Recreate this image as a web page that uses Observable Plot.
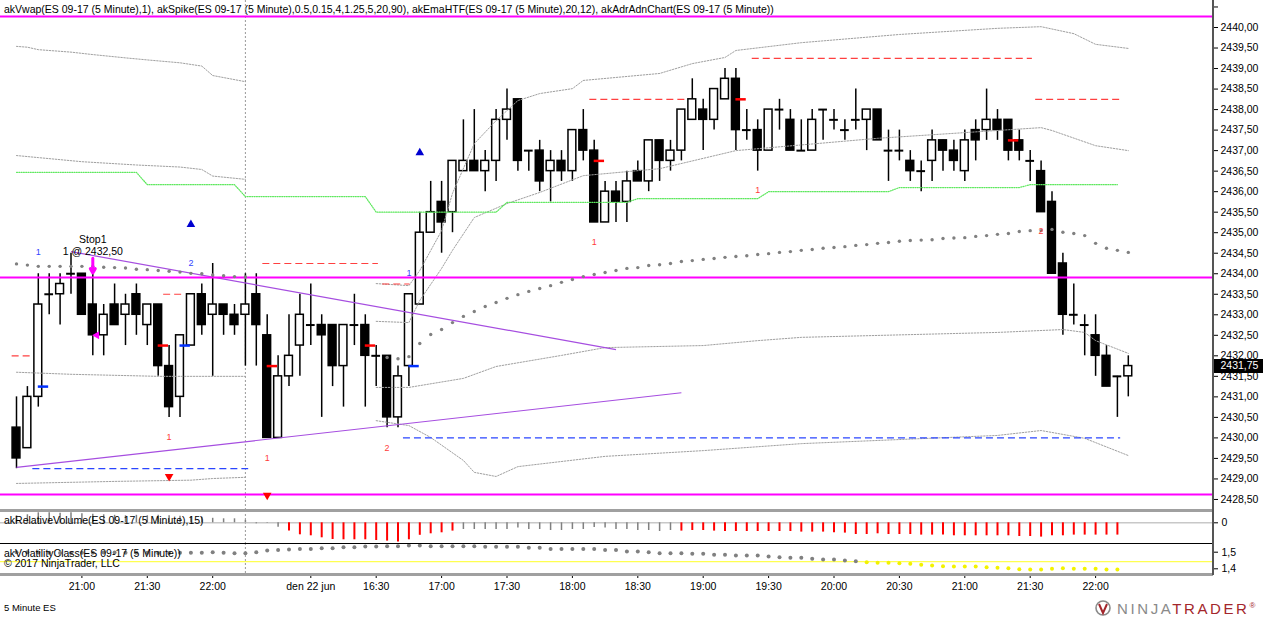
<!DOCTYPE html>
<html>
<head>
<meta charset="utf-8">
<script src="https://cdn.jsdelivr.net/npm/d3@7"></script>
<script src="https://cdn.jsdelivr.net/npm/@observablehq/plot@0.6"></script>
<style>
  body { margin: 0; background: #fff; overflow: hidden; font-family: 'Liberation Sans', Arial, sans-serif; }
  #chart { position: relative; width: 1264px; height: 617px; background: #fff; }
  #chart svg { position: absolute; left: 0; }
  .lbl { position: absolute; left: 4px; font-size: 10.5px; line-height: 12px; color: #000; white-space: nowrap; }
  .sep { position: absolute; left: 0; width: 1213px; }
</style>
</head>
<body>
<div id="chart">
  <div class="lbl" style="top:3px">akVwap(ES 09-17 (5 Minute),1), akSpike(ES 09-17 (5 Minute),0.5,0.15,4,1.25,5,20,90), akEmaHTF(ES 09-17 (5 Minute),20,12), akAdrAdnChart(ES 09-17 (5 Minute))</div>
</div>
<script>
// 5 minute bars, index 1 = 20:30 (first session), 23 = 15:35 next day
const open = [2430.25, 2429.75, 2431.0, 2433.5, 2433.5, 2434.0, 2434.0, 2433.25, 2432.5, 2433.25,
  2433.0, 2433.5, 2432.75, 2433.25, 2431.75, 2431.0, 2432.25, 2433.5, 2433.0, 2433.25,
  2433.0, 2433.0, 2433.5, 2432.5, 2430.0, 2431.5, 2432.25, 2432.75, 2432.75, 2432.75,
  2431.75, 2432.75, 2432.75, 2432.0, 2432.0, 2430.5, 2431.75, 2433.25, 2435.0, 2435.75,
  2435.5, 2436.5, 2436.75, 2436.5, 2436.75, 2437.75, 2438.25, 2437.0, 2437.0, 2436.5,
  2436.75, 2436.5, 2437.5, 2437.0, 2435.25, 2436.0, 2435.75, 2436.5, 2436.25, 2437.25,
  2436.75, 2437.0, 2437.75, 2438.0, 2437.75, 2438.25, 2438.75, 2437.5, 2437.5, 2437.0,
  2438.0, 2437.75, 2437.0, 2437.0, 2438.0, 2437.75, 2437.5, 2437.75, 2437.75, 2438.0,
  2437.0, 2437.0, 2436.75, 2436.5, 2436.75, 2437.25, 2437.0, 2436.5, 2437.5, 2437.5,
  2437.75, 2437.75, 2437.25, 2436.75, 2436.5, 2435.75, 2434.25, 2433.0, 2432.75, 2432.5,
  2432.0, 2431.5, 2431.5]
const high = [2431.0, 2431.25, 2434.0, 2434.0, 2434.0, 2434.5, 2434.0, 2434.0, 2433.25, 2433.75,
  2433.5, 2433.75, 2433.25, 2433.25, 2432.25, 2432.5, 2433.5, 2433.75, 2434.25, 2433.25,
  2433.25, 2434.0, 2434.0, 2433.0, 2432.0, 2433.0, 2433.5, 2433.75, 2433.0, 2432.75,
  2432.75, 2433.5, 2433.0, 2432.25, 2432.0, 2431.75, 2433.5, 2435.5, 2436.25, 2436.25,
  2436.75, 2437.75, 2438.0, 2437.0, 2438.0, 2438.5, 2438.25, 2437.0, 2437.25, 2437.0,
  2437.0, 2437.5, 2438.0, 2437.25, 2436.25, 2436.25, 2436.5, 2436.75, 2437.25, 2437.25,
  2437.25, 2438.0, 2438.75, 2438.25, 2438.5, 2439.0, 2439.0, 2438.0, 2437.75, 2438.0,
  2438.25, 2438.0, 2437.75, 2438.0, 2438.0, 2438.0, 2437.75, 2438.5, 2438.0, 2438.0,
  2437.5, 2437.5, 2437.0, 2436.75, 2437.5, 2437.25, 2437.25, 2437.5, 2437.75, 2438.5,
  2438.0, 2437.75, 2437.5, 2437.0, 2436.75, 2436.0, 2434.5, 2433.75, 2433.0, 2433.0,
  2432.25, 2431.5, 2432.0]
const low = [2429.25, 2429.75, 2430.75, 2433.0, 2432.75, 2433.5, 2433.0, 2432.0, 2432.0, 2432.75,
  2432.25, 2432.5, 2432.25, 2431.5, 2430.5, 2430.5, 2432.25, 2432.5, 2431.5, 2432.5,
  2432.5, 2431.75, 2431.75, 2430.0, 2430.0, 2431.25, 2431.5, 2432.25, 2430.5, 2431.25,
  2430.75, 2432.25, 2430.75, 2431.25, 2430.25, 2430.25, 2431.25, 2433.25, 2435.0, 2434.5,
  2435.0, 2436.5, 2436.5, 2436.0, 2436.25, 2437.25, 2436.5, 2436.5, 2436.0, 2435.75,
  2436.25, 2436.25, 2436.75, 2435.25, 2435.25, 2435.25, 2435.25, 2436.25, 2436.0, 2436.25,
  2436.5, 2436.75, 2437.75, 2437.0, 2437.5, 2438.25, 2437.0, 2437.25, 2436.5, 2437.0,
  2437.5, 2437.0, 2437.0, 2437.0, 2437.25, 2437.5, 2437.25, 2437.5, 2437.0, 2437.25,
  2436.25, 2436.75, 2436.25, 2436.0, 2436.25, 2436.5, 2436.5, 2436.25, 2436.75, 2437.25,
  2437.25, 2436.75, 2436.75, 2436.25, 2435.5, 2434.0, 2432.5, 2432.75, 2432.0, 2431.5,
  2431.25, 2430.5, 2431.0]
const close = [2429.5, 2431.0, 2433.25, 2433.5, 2433.75, 2434.0, 2433.0, 2432.5, 2433.0, 2432.75,
  2433.25, 2433.0, 2433.25, 2431.75, 2430.75, 2432.5, 2433.5, 2432.75, 2433.25, 2433.0,
  2432.75, 2433.25, 2432.75, 2430.0, 2431.5, 2432.0, 2433.0, 2432.75, 2432.5, 2431.75,
  2432.75, 2432.75, 2432.0, 2432.0, 2430.5, 2431.5, 2433.5, 2435.0, 2435.5, 2435.25,
  2436.75, 2436.75, 2436.5, 2436.75, 2437.75, 2438.0, 2436.75, 2437.0, 2436.25, 2436.75,
  2436.5, 2437.5, 2437.0, 2435.25, 2436.0, 2435.75, 2436.25, 2436.25, 2437.25, 2436.75,
  2437.0, 2438.0, 2438.25, 2437.75, 2438.5, 2438.75, 2437.5, 2437.5, 2437.0, 2438.0,
  2438.0, 2437.0, 2437.0, 2437.75, 2438.0, 2437.75, 2437.5, 2437.75, 2438.0, 2437.25,
  2437.0, 2437.0, 2436.5, 2436.5, 2437.25, 2437.0, 2436.75, 2437.25, 2437.25, 2437.75,
  2437.5, 2437.0, 2437.0, 2436.75, 2435.5, 2434.0, 2433.0, 2433.0, 2432.75, 2432.0,
  2431.25, 2431.5, 2431.75]

// time axis
const timeTickBar = [7, 13, 19, 28, 34, 40, 46, 52, 58, 64, 70, 76, 82, 88, 94, 100]
const timeTickLabel = ['21:00', '21:30', '22:00', 'den 22 jun', '16:30', '17:00', '17:30', '18:00',
  '18:30', '19:00', '19:30', '20:00', '20:30', '21:00', '21:30', '22:00']
const sessionBreakBar = 22

// akVwap: vwap dots per session
const vwapS1Start = 1
const vwapS1 = [2434.24, 2434.21, 2434.18, 2434.18, 2434.18, 2434.18, 2434.18, 2434.18, 2434.16, 2434.15,
  2434.14, 2434.11, 2434.10, 2434.08, 2434.06, 2434.04, 2434.01, 2434.00, 2433.97, 2433.95,
  2433.93, 2433.92]
const vwapS2Start = 35
const vwapS2 = [2431.96, 2431.93, 2431.98, 2432.30, 2432.52, 2432.64, 2432.81, 2432.96, 2433.08, 2433.20,
  2433.30, 2433.40, 2433.49, 2433.57, 2433.64, 2433.71, 2433.79, 2433.86, 2433.93, 2433.98,
  2434.03, 2434.08, 2434.13, 2434.15, 2434.20, 2434.22, 2434.25, 2434.30, 2434.32, 2434.35,
  2434.37, 2434.40, 2434.42, 2434.44, 2434.47, 2434.49, 2434.52, 2434.54, 2434.57, 2434.59,
  2434.62, 2434.64, 2434.66, 2434.69, 2434.71, 2434.74, 2434.76, 2434.79, 2434.81, 2434.82,
  2434.83, 2434.86, 2434.87, 2434.88, 2434.91, 2434.93, 2434.96, 2434.98, 2435.03, 2435.05,
  2435.05, 2435.08, 2435.01, 2434.98, 2434.93, 2434.74, 2434.62, 2434.57, 2434.52]

// vwap deviation bands, [bar, price]
const bandS1Up2 = [[1, 2439.54], [2, 2439.52], [3, 2439.46], [6, 2439.40], [8, 2439.34], [11, 2439.26],
  [13, 2439.21], [16, 2439.14], [18, 2439.06], [19, 2438.83], [22, 2438.68]]
const bandS1Up1 = [[1, 2436.88], [3, 2436.83], [7, 2436.73], [12, 2436.65], [16, 2436.60], [18, 2436.54],
  [19, 2436.38], [22, 2436.30]]
const bandS1Dn1 = [[1, 2431.60], [6, 2431.55], [14, 2431.50], [22, 2431.50]]
const bandS1Dn2 = [[1, 2428.89], [10, 2428.94], [17, 2428.97], [19, 2429.01], [22, 2429.04]]
const bandS2Up2 = [[34, 2433.76], [37, 2433.71], [38, 2434.08], [40, 2435.05], [41, 2435.96], [43, 2437.17],
  [45, 2437.73], [47, 2438.22], [49, 2438.39], [52, 2438.51], [53, 2438.71], [60, 2438.88], [63, 2439.12],
  [66, 2439.27], [67, 2439.44], [73, 2439.63], [82, 2439.83], [91, 2439.98], [95, 2440.02], [98, 2439.85],
  [100, 2439.59], [103, 2439.49]]
const bandS2Up1 = [[34, 2432.84], [37, 2432.81], [38, 2433.35], [40, 2434.13], [41, 2434.57], [43, 2435.37],
  [46, 2435.71], [49, 2435.98], [53, 2436.39], [60, 2436.56], [67, 2437.00], [80, 2437.30], [95, 2437.56],
  [96, 2437.49], [100, 2437.12], [103, 2437.00]]
const bandS2Dn1 = [[34, 2431.23], [37, 2431.23], [42, 2431.45], [45, 2431.74], [51, 2432.01], [55, 2432.20],
  [64, 2432.25], [69, 2432.37], [73, 2432.45], [91, 2432.57], [97, 2432.64], [99, 2432.57], [100, 2432.37],
  [103, 2432.06]]
const bandS2Dn2 = [[34, 2430.42], [37, 2430.30], [39, 2430.01], [42, 2429.45], [43, 2429.16], [45, 2429.06],
  [47, 2429.30], [55, 2429.55], [64, 2429.69], [73, 2429.86], [91, 2430.06], [95, 2430.18], [99, 2429.99],
  [103, 2429.57]]

// akEmaHTF step line, [bar, price]
const emaHTF = [[1, 2436.47], [12, 2436.47], [13, 2436.17], [21, 2436.17], [22, 2435.88], [33, 2435.88],
  [34, 2435.50], [45, 2435.50], [46, 2435.74], [57, 2435.74], [58, 2435.83], [69, 2435.83], [70, 2436.00],
  [81, 2436.00], [82, 2436.10], [93, 2436.10], [94, 2436.17], [102, 2436.17]]

// akAdrAdnChart levels
const adrLevels = [2440.27, 2433.91, 2428.62]

// akSpike dashed levels (from bar, to bar, price)
const redLevelFrom = [0.6, 14.5, 23.6, 34.6, 53.6, 68.5, 94.5]
const redLevelTo = [2.3, 16.3, 34.2, 37.1, 62.4, 94.2, 102.3]
const redLevelPrice = [2432.0, 2433.5, 2434.25, 2433.75, 2438.25, 2439.25, 2438.25]
const blueLevelFrom = [2.5, 36.5]
const blueLevelTo = [22.3, 102.3]
const blueLevelPrice = [2429.25, 2430.0]

// spike ticks on bars
const buyTickBar = [3, 16, 37]
const buyTickPrice = [2431.25, 2432.25, 2431.75]
const sellTickBar = [14, 24, 33, 54, 67, 92]
const sellTickPrice = [2432.25, 2431.75, 2432.25, 2436.75, 2438.25, 2437.25]

// triangles and counters
const upTriBar = [17, 38]
const upTriPrice = [2435.20, 2436.95]
const downTriBar = [15, 24]
const downTriPrice = [2429.06, 2428.60]
const blueCountBar = [3, 17, 37]
const blueCountPrice = [2434.52, 2434.25, 2434.01]
const blueCountText = ['1', '2', '1']
const redCountBar = [15, 24, 35, 54, 69, 95]
const redCountPrice = [2430.01, 2429.50, 2429.74, 2434.76, 2436.03, 2435.03]
const redCountText = ['1', '1', '2', '1', '1', '2']

// trend lines drawn on the chart
const trendFrom = [[6, 2434.54], [1, 2429.28]]
const trendTo = [[56, 2432.15], [62, 2431.10]]

// stop order
const stopBar = 8
const stopPrice = 2432.50
const stopQty = 1

// akRelativeVolume(15), bars 1..102
const relVol = [0.7, 0.8, 1.0, 1.0, 0.95, 1.0, 0.9, 0.85, 0.8, 0.75,
  0.7, 0.75, 0.7, 0.75, 0.7, 0.65, 0.6, 0.55, 0.45, 0.4,
  0.4, 0.25, -0.1, -0.05, -0.45, -0.83, -1.2, -1.3, -1.5, -1.67,
  -1.7, -1.7, -1.7, -1.77, -1.83, -1.93, -1.7, -1.25, -1.1, -1.0,
  -0.83, -0.67, -0.67, -0.67, -0.67, -0.67, -0.53, -0.67, -0.67, -0.77,
  -0.77, -0.67, -0.67, -0.47, -0.53, -0.67, -0.67, -0.77, -0.77, -0.87,
  -0.77, -0.83, -0.77, -0.77, -0.83, -0.87, -0.87, -0.87, -0.87, -0.87,
  -0.87, -0.87, -0.93, -0.93, -0.93, -1.0, -1.03, -1.17, -1.17, -1.1,
  -1.17, -1.17, -1.17, -1.23, -1.23, -1.23, -1.3, -1.3, -1.3, -1.3,
  -1.3, -1.3, -1.37, -1.37, -1.43, -1.3, -1.3, -1.23, -1.23, -1.23,
  -1.23, -1.23]
const relVolAlertRuns = [[26, 41], [62, 102]]

// akVolatilityClass, bars 1..102
const volClass = [1.50, 1.50, 1.498, 1.496, 1.495, 1.495, 1.496, 1.497, 1.498, 1.498,
  1.497, 1.496, 1.496, 1.495, 1.495, 1.496, 1.496, 1.496, 1.50, 1.496,
  1.494, 1.494, 1.50, 1.51, 1.514, 1.516, 1.52, 1.52, 1.524, 1.524,
  1.53, 1.53, 1.534, 1.534, 1.536, 1.536, 1.54, 1.54, 1.536, 1.536,
  1.536, 1.536, 1.536, 1.533, 1.533, 1.533, 1.533, 1.527, 1.527, 1.52,
  1.52, 1.52, 1.52, 1.52, 1.514, 1.514, 1.504, 1.504, 1.50, 1.494,
  1.494, 1.494, 1.49, 1.49, 1.484, 1.484, 1.48, 1.48, 1.48, 1.474,
  1.47, 1.466, 1.466, 1.46, 1.456, 1.456, 1.45, 1.445, 1.44, 1.436,
  1.436, 1.434, 1.43, 1.424, 1.42, 1.416, 1.414, 1.414, 1.414, 1.41,
  1.406, 1.404, 1.398, 1.396, 1.396, 1.40, 1.404, 1.40, 1.40, 1.40,
  1.396, 1.396]
const volClassLevel = 1.443

// ---------------------------------------------------------------
const font = "'Liberation Sans', Arial, sans-serif"
const pxPerBar = 10.9
const plotW = 1212
const x0 = 1 - 16 / pxPerBar
const xDomain = [x0, x0 + plotW / pxPerBar]
const fmt2 = d => d.toFixed(2).replace('.', ',')
const baseStyle = {fontFamily: font, fontSize: '10.5px', background: 'transparent', color: '#000'}

const bars = open.map((o, k) => ({i: k + 1, o, h: high[k], l: low[k], c: close[k]}))
const bodies = bars.filter(d => d.o !== d.c)
const dojis = bars.filter(d => d.o === d.c)
const vwapDots = vwapS1.map((v, k) => ({i: vwapS1Start + k, v}))
  .concat(vwapS2.map((v, k) => ({i: vwapS2Start + k, v})))
const bands = [bandS1Up2, bandS1Up1, bandS1Dn1, bandS1Dn2, bandS2Up2, bandS2Up1, bandS2Dn1, bandS2Dn2]
const redLevels = redLevelPrice.map((p, k) => ({x1: redLevelFrom[k], x2: redLevelTo[k], p}))
const blueLevels = blueLevelPrice.map((p, k) => ({x1: blueLevelFrom[k], x2: blueLevelTo[k], p}))
const buyTicks = buyTickBar.map((i, k) => ({i, p: buyTickPrice[k]}))
const sellTicks = sellTickBar.map((i, k) => ({i, p: sellTickPrice[k]}))
const upTri = upTriBar.map((i, k) => ({i, p: upTriPrice[k]}))
const downTri = downTriBar.map((i, k) => ({i, p: downTriPrice[k]}))
const blueCount = blueCountBar.map((i, k) => ({i, p: blueCountPrice[k], t: blueCountText[k]}))
const redCount = redCountBar.map((i, k) => ({i, p: redCountPrice[k], t: redCountText[k]}))
const trends = trendFrom.map((f, k) => ({x1: f[0], y1: f[1], x2: trendTo[k][0], y2: trendTo[k][1]}))
const lastClose = close[close.length - 1]
const stop = {i: stopBar, h: high[stopBar - 1], c: close[stopBar - 1]}

// price panel
const priceChart = Plot.plot({
  width: 1264, height: 510,
  marginLeft: 0, marginRight: 52, marginTop: 0, marginBottom: 0,
  style: baseStyle,
  x: {domain: xDomain, axis: null},
  y: {
    domain: [2428.231, 2440.658], axis: 'right', label: null,
    ticks: d3.range(2428.5, 2440.51, 0.5),
    tickFormat: d => d > 2440.25 ? '' : fmt2(d),
    tickSize: 5, tickPadding: 3
  },
  marks: [
    Plot.ruleX([sessionBreakBar], {stroke: '#9a9a9a', strokeDasharray: '2,2'}),
    // candles
    Plot.ruleX(bars, {x: 'i', y1: 'l', y2: 'h', stroke: '#000', strokeWidth: 1.5}),
    Plot.rect(bodies, {
      x1: d => d.i - 0.36, x2: d => d.i + 0.36, y1: 'o', y2: 'c',
      fill: d => d.c > d.o ? '#fff' : '#000', stroke: '#000', strokeWidth: 1.5
    }),
    Plot.ruleY(dojis, {y: 'o', x1: d => d.i - 0.4, x2: d => d.i + 0.4, stroke: '#000', strokeWidth: 2}),
    // vwap bands and ema
    ...bands.map(b => Plot.line(b, {x: d => d[0], y: d => d[1], stroke: '#a0a0a0', strokeWidth: 1, strokeDasharray: '1.5,1.5'})),
    Plot.line(emaHTF, {x: d => d[0], y: d => d[1], stroke: '#5ee85e', strokeWidth: 1.2, strokeDasharray: '1,1.3'}),
    // spike levels
    Plot.ruleY(redLevels, {y: 'p', x1: 'x1', x2: 'x2', stroke: '#ff4040', strokeWidth: 1.2, strokeDasharray: '7,4'}),
    Plot.ruleY(blueLevels, {y: 'p', x1: 'x1', x2: 'x2', stroke: '#2a45ff', strokeWidth: 1.2, strokeDasharray: '7,4'}),
    Plot.link(trends, {x1: 'x1', y1: 'y1', x2: 'x2', y2: 'y2', stroke: '#a64ee0', strokeWidth: 1.2}),
    Plot.ruleY(adrLevels, {stroke: '#ff00ff', strokeWidth: 2}),
    Plot.dot(vwapDots, {x: 'i', y: 'v', r: 1.7, fill: '#808080'}),
    Plot.ruleY(buyTicks, {y: 'p', x1: d => d.i, x2: d => d.i + 0.95, stroke: '#0030ff', strokeWidth: 2.5}),
    Plot.ruleY(sellTicks, {y: 'p', x1: d => d.i, x2: d => d.i + 0.95, stroke: '#ff0000', strokeWidth: 2.5}),
    Plot.dot(upTri, {x: 'i', y: 'p', symbol: 'triangle', r: 3.2, fill: '#0000d0'}),
    Plot.dot(downTri, {x: 'i', y: 'p', symbol: 'triangle', r: 3.2, rotate: 180, fill: '#ff0000'}),
    Plot.text(blueCount, {x: 'i', y: 'p', text: 't', fill: '#3344ff', fontSize: 9}),
    Plot.text(redCount, {x: 'i', y: 'p', text: 't', fill: '#ff3b3b', fontSize: 9}),
    // stop order note
    Plot.text([stop], {x: 'i', y: 'h', text: () => `Stop1\n${stopQty} @ ${fmt2(stopPrice)}`, lineAnchor: 'bottom', dy: -19, fontSize: 10.5, lineHeight: 1.15, fill: '#000'}),
    Plot.arrow([stop], {x1: 'i', x2: 'i', y1: d => d.h + 0.38, y2: d => d.h + 0.02, stroke: '#ff00ff', strokeWidth: 3, headLength: 6}),
    Plot.dot([stop], {x: 'i', y: 'c', dx: 4, symbol: 'triangle', rotate: -90, r: 3, fill: '#ff00ff'}),
    // last price box on the axis
    Plot.ruleY([lastClose], {x1: xDomain[1], x2: xDomain[1] + 51 / pxPerBar, stroke: '#000', strokeWidth: 14}),
    Plot.text([lastClose], {x: xDomain[1], y: d => d, text: fmt2, textAnchor: 'start', dx: 8, fill: '#fff', fontSize: 10.5})
  ]
})

// relative volume panel
const inAlert = i => relVolAlertRuns.some(r => i >= r[0] && i <= r[1])
const rvData = relVol.map((v, k) => ({i: k + 1, v}))
const volChart = Plot.plot({
  width: 1264, height: 33,
  marginLeft: 0, marginRight: 52, marginTop: 0, marginBottom: 0,
  style: baseStyle,
  x: {domain: xDomain, axis: null},
  y: {domain: [-2.07, 1.23], axis: 'right', label: null, ticks: [0], tickFormat: () => '0', tickSize: 5, tickPadding: 4},
  marks: [
    Plot.ruleX([sessionBreakBar], {stroke: '#9a9a9a', strokeDasharray: '2,2'}),
    Plot.ruleY([0], {stroke: '#c8c8c8', strokeWidth: 1.5}),
    Plot.ruleX(rvData, {
      x: 'i', y1: 0, y2: 'v',
      stroke: d => inAlert(d.i) ? '#ff0000' : '#808080',
      strokeWidth: d => inAlert(d.i) ? 2 : 1.5
    })
  ]
})

// volatility class panel + time axis
const vcData = volClass.map((v, k) => ({i: k + 1, v}))
const tickLabel = new Map(timeTickBar.map((b, k) => [b, timeTickLabel[k]]))
const vcChart = Plot.plot({
  width: 1264, height: 74,
  marginLeft: 0, marginRight: 52, marginTop: 0, marginBottom: 43,
  style: baseStyle,
  x: {domain: xDomain, axis: 'bottom', label: null, ticks: timeTickBar, tickFormat: d => tickLabel.get(d), tickSize: 4, tickPadding: 4},
  y: {domain: [1.3657, 1.5524], axis: 'right', label: null, ticks: [1.4, 1.5], tickFormat: d => d.toFixed(1).replace('.', ','), tickSize: 5, tickPadding: 4},
  marks: [
    Plot.ruleX([sessionBreakBar], {stroke: '#9a9a9a', strokeDasharray: '2,2'}),
    Plot.ruleY([volClassLevel], {stroke: '#ffff50', strokeWidth: 1.3}),
    Plot.dot(vcData, {x: 'i', y: 'v', r: 2, fill: d => d.v < volClassLevel ? '#f2f200' : '#808080'})
  ]
})

const root = d3.select('#chart')
root.append(() => priceChart).style('top', '0px')
root.append(() => volChart).style('top', '510px')
root.append(() => vcChart).style('top', '543px')

// panel separators and right axis line
root.append('div').attr('class', 'sep').style('top', '508.5px').style('height', '3px').style('background', '#a0a0a0')
root.append('div').attr('class', 'sep').style('top', '542.5px').style('height', '1.5px').style('background', '#000')
root.append('div').attr('class', 'sep').style('top', '572.5px').style('height', '3px').style('background', '#a0a0a0')
root.append('div').style('position', 'absolute').style('left', '1212px').style('top', '0px')
  .style('width', '1.5px').style('height', '575px').style('background', '#555')

// panel texts
const lbl = (txt, top, size) => root.append('div').attr('class', 'lbl').style('top', top + 'px')
  .style('font-size', (size || 10.5) + 'px').text(txt)
lbl('akRelativeVolume(ES 09-17 (5 Minute),15)', 514)
lbl('akVolatilityClass(ES 09-17 (5 Minute))', 547)
lbl('\u00a9 2017 NinjaTrader, LLC', 556.5)
lbl('5 Minute ES', 601.5, 9.5)

// logo
root.append('div')
  .style('position', 'absolute').style('left', '1094px').style('top', '599px')
  .style('font-size', '15px').style('letter-spacing', '2.6px').style('white-space', 'nowrap')
  .html('<svg width="20" height="18" style="position:static;vertical-align:-3px;margin-right:3px">'
    + '<circle cx="9" cy="9" r="7" fill="none" stroke="#8a8a8a" stroke-width="1.6"/>'
    + '<path d="M5 5 L9 14 L13 5" fill="none" stroke="#a3262c" stroke-width="2"/></svg>'
    + '<span style="color:#8a8a8a">NINJA</span><span style="color:#a3262c">TRADER</span>'
    + '<span style="color:#a3262c;font-size:8px;vertical-align:6px">\u00ae</span>')
</script>
</body>
</html>
